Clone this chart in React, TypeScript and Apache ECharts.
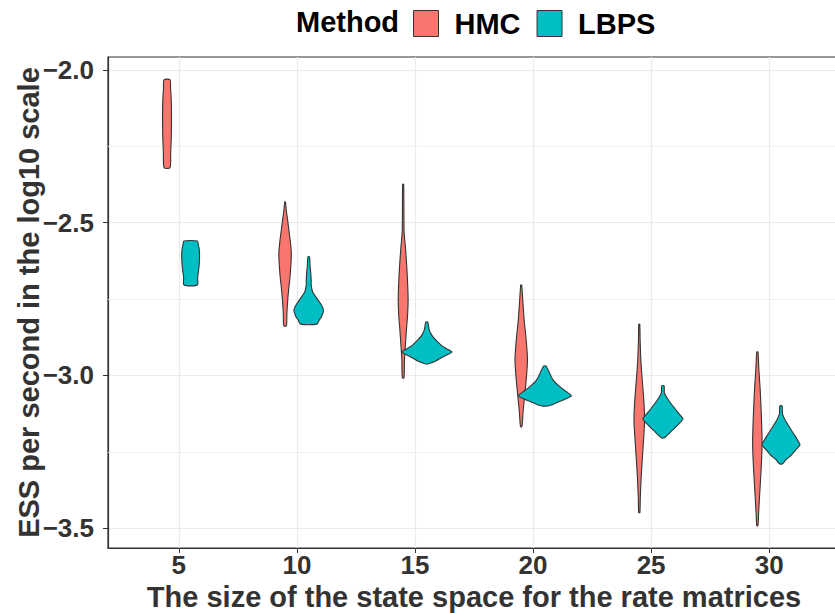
import React, { useEffect, useRef } from "react";
import * as echarts from "echarts";

// ---- data ----
const CATEGORIES = ["5", "10", "15", "20", "25", "30"];
const CAT_POS = [1, 2, 3, 4, 5, 6];
const METHODS = ["HMC", "LBPS"];
const Y_TICKS = [-3.5, -3.0, -2.5, -2.0];
const Y_MINOR = [-3.25, -2.75, -2.25];

// violin profiles: y values (log10 ESS/s) and half-widths (density, in x units)
const HMC_Y = [
  [-2.032, -2.06, -2.1, -2.16, -2.22, -2.27, -2.32],
  [-2.432, -2.46, -2.49, -2.53, -2.56, -2.6, -2.64, -2.68, -2.72, -2.76, -2.8, -2.838],
  [-2.374, -2.45, -2.53, -2.58, -2.64, -2.7, -2.75, -2.8, -2.85, -2.9, -2.95, -3.008],
  [-2.704, -2.753, -2.819, -2.884, -2.949, -3.015, -3.064, -3.113, -3.168],
  [-2.832, -2.884, -2.949, -3.015, -3.08, -3.145, -3.211, -3.276, -3.341, -3.407, -3.449],
  [-2.923, -2.982, -3.047, -3.113, -3.178, -3.22, -3.276, -3.341, -3.407, -3.456, -3.492],
];
const HMC_W = [
  [0.025, 0.03, 0.036, 0.038, 0.036, 0.031, 0.025],
  [0.003, 0.01, 0.021, 0.034, 0.044, 0.053, 0.049, 0.041, 0.03, 0.021, 0.015, 0.011],
  [0.004, 0.006, 0.008, 0.019, 0.03, 0.038, 0.042, 0.038, 0.028, 0.019, 0.011, 0.007],
  [0.004, 0.013, 0.025, 0.042, 0.053, 0.042, 0.03, 0.017, 0.006],
  [0.004, 0.007, 0.013, 0.025, 0.038, 0.045, 0.036, 0.025, 0.015, 0.008, 0.005],
  [0.005, 0.013, 0.024, 0.032, 0.038, 0.04, 0.036, 0.027, 0.017, 0.01, 0.005],
];
const LBPS_Y = [
  [-2.56, -2.57, -2.585, -2.6, -2.62, -2.64, -2.66, -2.68, -2.704],
  [-2.612, -2.639, -2.662, -2.688, -2.704, -2.727, -2.747, -2.766, -2.786, -2.806, -2.819, -2.832],
  [-2.825, -2.851, -2.868, -2.884, -2.9, -2.913, -2.923, -2.933, -2.943, -2.953, -2.958, -2.962],
  [-2.969, -2.98, -2.99, -3.005, -3.02, -3.031, -3.045, -3.054, -3.067, -3.078, -3.088, -3.095, -3.1],
  [-3.034, -3.057, -3.083, -3.109, -3.129, -3.142, -3.162, -3.181, -3.194, -3.204],
  [-3.1, -3.126, -3.145, -3.172, -3.198, -3.214, -3.227, -3.243, -3.262, -3.276, -3.289],
];
const LBPS_W = [
  [0.057, 0.064, 0.072, 0.075, 0.075, 0.072, 0.066, 0.059, 0.057],
  [0.007, 0.011, 0.017, 0.021, 0.021, 0.034, 0.068, 0.102, 0.125, 0.11, 0.089, 0.068],
  [0.008, 0.021, 0.042, 0.076, 0.119, 0.169, 0.212, 0.169, 0.119, 0.076, 0.042, 0.017],
  [0.01, 0.025, 0.038, 0.055, 0.081, 0.11, 0.153, 0.186, 0.225, 0.169, 0.11, 0.068, 0.025],
  [0.01, 0.013, 0.051, 0.102, 0.144, 0.169, 0.127, 0.076, 0.042, 0.013],
  [0.01, 0.013, 0.034, 0.076, 0.119, 0.144, 0.161, 0.127, 0.085, 0.042, 0.013],
];

const COLORS = ["#F8766D", "#00BFC4"];
const FONT = "'Liberation Sans', Arial, Helvetica, sans-serif";
const DODGE = 0.1;

function makeSeries(name: string, ys: number[][], ws: number[][], offset: number, color: string, extra: any = {}) {
  const data = ys.map((arr, i) => [CAT_POS[i] + offset, Math.min(...arr), Math.max(...arr)]);
  return {
    name,
    type: "custom",
    z: 3,
    data,
    encode: { x: 0, y: [1, 2] },
    itemStyle: { color, borderColor: "#333333", borderWidth: 1 },
    renderItem: (params: any, api: any) => {
      const i = params.dataIndex;
      const yv = ys[i];
      const wv = ws[i];
      const xc = api.value(0);
      const right = yv.map((y, k) => api.coord([xc + wv[k], y]));
      const left = yv.map((y, k) => api.coord([xc - wv[k], y])).reverse();
      return {
        type: "polygon",
        shape: { points: right.concat(left), smooth: 0.25 },
        style: { fill: color, stroke: "#333333", lineWidth: 1.1 },
      };
    },
    ...extra,
  };
}

export default function App() {
  const ref = useRef<HTMLDivElement>(null);
  useEffect(() => {
    if (!ref.current) return;
    const chart = echarts.init(ref.current, null, { renderer: "svg" });
    chart.setOption({
      animation: false,
      backgroundColor: "#ffffff",
      textStyle: { fontFamily: FONT },
      graphic: [
        {
          type: "text",
          x: 296,
          y: 22,
          style: {
            text: "Method",
            font: `bold 29px ${FONT}`,
            fill: "#000000",
            verticalAlign: "middle",
          },
        },
      ],
      legend: {
        data: METHODS,
        left: 413,
        top: 9,
        padding: 0,
        icon: "rect",
        itemWidth: 25,
        itemHeight: 26,
        itemGap: 16,
        itemStyle: { borderColor: "#333333", borderWidth: 1 },
        textStyle: {
          fontFamily: FONT,
          fontWeight: "bold",
          fontSize: 29,
          color: "#000000",
          padding: [0, 0, 0, 11],
        },
      },
      grid: {
        left: 108,
        right: -5,
        top: 57,
        bottom: 65,
        show: true,
        borderColor: "#333333",
        borderWidth: 1.2,
        containLabel: false,
        outerBoundsMode: "none",
      },
      xAxis: {
        type: "value",
        min: 0.4,
        max: 6.6,
        name: "The size of the state space for the rate matrices",
        nameLocation: "middle",
        nameGap: 34,
        nameTextStyle: { fontFamily: FONT, fontWeight: "bold", fontSize: 29, color: "#333333" },
        axisLine: { show: true, lineStyle: { color: "#333333", width: 1.2 } },
        axisTick: { show: true, length: 5, customValues: CAT_POS, lineStyle: { color: "#333333" } },
        axisLabel: {
          margin: 4,
          customValues: CAT_POS,
          fontFamily: FONT,
          fontWeight: "bold",
          fontSize: 26,
          color: "#333333",
          formatter: (v: number) => {
            const idx = CAT_POS.findIndex((p) => Math.abs(p - v) < 1e-6);
            return idx >= 0 ? CATEGORIES[idx] : "";
          },
        },
        splitLine: { show: true, lineStyle: { color: "#EBEBEB", width: 1.2 } },
      },
      yAxis: {
        type: "value",
        min: -3.565,
        max: -1.9575,
        name: "ESS per second in the log10 scale",
        nameLocation: "middle",
        nameGap: 65,
        nameMoveOverlap: false,
        nameTextStyle: { fontFamily: FONT, fontWeight: "bold", fontSize: 29, color: "#333333" },
        axisLine: { show: true, lineStyle: { color: "#333333", width: 1.2 } },
        axisTick: { show: true, length: 5, customValues: Y_TICKS, lineStyle: { color: "#333333" } },
        axisLabel: {
          margin: 14,
          customValues: Y_TICKS,
          fontFamily: FONT,
          fontWeight: "bold",
          fontSize: 26,
          color: "#333333",
          formatter: (v: number) => v.toFixed(1).replace("-", "\u2212"),
        },
        splitLine: { show: true, lineStyle: { color: "#EBEBEB", width: 1.2 } },
      },
      series: [
        makeSeries(METHODS[0], HMC_Y, HMC_W, -DODGE, COLORS[0], {
          markLine: {
            silent: true,
            z: 1,
            symbol: "none",
            label: { show: false },
            lineStyle: { color: "#EFEFEF", width: 0.8, type: "solid" },
            data: Y_MINOR.map((v) => ({ yAxis: v })),
          },
        }),
        makeSeries(METHODS[1], LBPS_Y, LBPS_W, DODGE, COLORS[1]),
      ],
    });
    return () => chart.dispose();
  }, []);
  return (
    <div
      ref={ref}
      style={{ position: "absolute", left: 0, top: 0, width: 835, height: 613, background: "#fff" }}
    />
  );
}
